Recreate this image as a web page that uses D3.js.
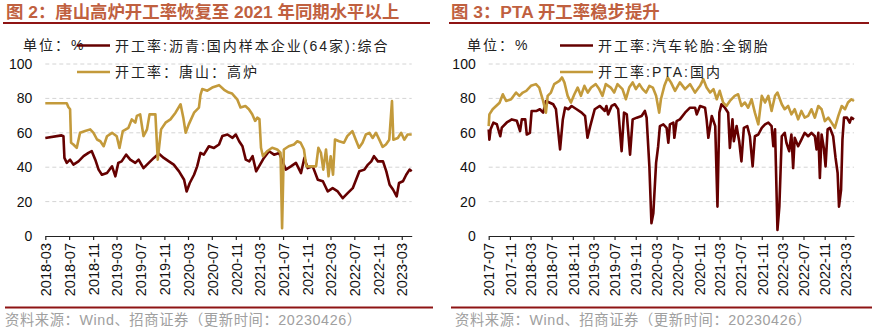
<!DOCTYPE html>
<html><head><meta charset="utf-8">
<script src="https://cdn.jsdelivr.net/npm/d3@7"></script>
<style>
body{margin:0;background:#fff;}
text{font-family:"Liberation Sans","Noto Sans CJK SC",Arial,sans-serif;}
.cjk{font-family:"Liberation Sans","Noto Sans CJK SC",sans-serif;}
</style></head>
<body><svg id="c" width="880" height="329"></svg>
<script>
// ---------- data ----------
const titles = ["图 2：唐山高炉开工率恢复至 2021 年同期水平以上", "图 3：PTA 开工率稳步提升"];
const sourceText = "资料来源：Wind、招商证券（更新时间：20230426）";
const unitText = "单位：%";
const yTicks = [0, 20, 40, 60, 80, 100];

const leftSeriesNames = ["开工率:沥青:国内样本企业(64家):综合", "开工率：唐山：高炉"];
const leftTicks = ["2018-03","2018-07","2018-11","2019-03","2019-07","2019-11","2020-03","2020-07","2020-11","2021-03","2021-07","2021-11","2022-03","2022-07","2022-11","2023-03"];
const leftDomain = ["2018-03-01", "2023-04-21"];

const asphalt = [
["2018-03-01",57],["2018-05-23",58.5],["2018-06-02",58],["2018-06-07",45.4],["2018-06-19",42.5],["2018-07-06",44.4],["2018-07-23",41.5],["2018-08-18",43.4],["2018-09-13",46.4],["2018-10-08",48.3],["2018-10-25",49.3],["2018-11-12",44.4],["2018-11-29",38.6],["2018-12-16",35.6],["2019-01-11",36.6],["2019-02-06",40.5],["2019-02-23",34.7],["2019-03-10",42.5],["2019-03-27",43.4],["2019-04-19",47.3],["2019-05-10",44.4],["2019-06-05",42.5],["2019-06-22",44.4],["2019-07-17",39.5],["2019-08-13",42.5],["2019-09-08",45.4],["2019-10-03",47.9],["2019-10-29",45.4],["2019-11-24",43.4],["2019-12-19",41.5],["2020-01-15",37.6],["2020-02-10",32.7],["2020-02-23",25.9],["2020-03-10",30.8],["2020-04-01",35.6],["2020-04-17",40.5],["2020-05-04",48.3],["2020-05-21",47.3],["2020-06-16",52.2],["2020-07-12",51.2],["2020-08-07",53.2],["2020-08-24",58.1],["2020-09-19",59],["2020-10-15",57.1],["2020-11-01",59],["2020-11-18",55.1],["2020-12-05",52.2],["2020-12-22",44.4],["2021-01-09",43.4],["2021-01-26",46.4],["2021-02-13",37.6],["2021-02-28",40.5],["2021-03-25",45.4],["2021-04-20",49.3],["2021-05-16",47.3],["2021-06-11",48.3],["2021-06-28",43.4],["2021-07-15",38.6],["2021-08-10",40.5],["2021-09-05",42.5],["2021-10-01",36.6],["2021-10-18",45.4],["2021-11-04",39.5],["2021-11-30",40.5],["2021-12-26",32.7],["2022-01-21",31.8],["2022-02-15",25.9],["2022-03-12",27.8],["2022-04-07",25.9],["2022-05-03",22],["2022-05-28",24.9],["2022-06-23",27.8],["2022-07-10",32.7],["2022-07-27",37.6],["2022-08-22",38.6],["2022-09-09",41.5],["2022-09-26",43.4],["2022-10-10",46.4],["2022-10-30",43.4],["2022-11-25",43.4],["2022-12-12",37.6],["2022-12-29",29.8],["2023-01-16",26.9],["2023-02-03",23],["2023-02-15",30.8],["2023-03-07",31.8],["2023-03-24",35.6],["2023-04-10",38.6],["2023-04-21",37.6]
];
const tangshan = [
["2018-03-01",77.2],["2018-06-19",77.2],["2018-06-27",75],["2018-07-06",73.7],["2018-07-11",54.2],["2018-07-23",53.2],["2018-08-09",51.2],["2018-08-26",60],["2018-09-21",61],["2018-10-17",62],["2018-11-03",60],["2018-11-21",56.1],["2018-12-08",55.1],["2018-12-25",52.2],["2019-01-11",58],["2019-02-06",60],["2019-03-02",58],["2019-03-16",51.2],["2019-04-02",61],["2019-05-01",62.9],["2019-05-18",67.8],["2019-06-05",65.9],["2019-06-13",69.8],["2019-06-30",70.7],["2019-07-17",58.1],["2019-08-04",62],["2019-08-17",70.7],["2019-09-16",70.7],["2019-09-28",44.4],["2019-10-15",62],["2019-11-07",65.9],["2019-12-02",67.8],["2019-12-28",71.7],["2020-01-23",76.6],["2020-02-06",68.8],["2020-02-18",60],["2020-03-05",64.9],["2020-04-01",71.7],["2020-04-26",74.6],["2020-05-04",82],["2020-05-13",85.4],["2020-06-08",84.5],["2020-07-03",86.3],["2020-08-07",87.7],["2020-09-02",85],["2020-09-26",83.4],["2020-10-13",82.8],["2020-11-08",79.5],["2020-11-25",74.7],["2020-12-20",75.6],["2021-01-07",73.7],["2021-01-24",70.8],["2021-02-08",66.9],["2021-02-19",68.8],["2021-03-02",68],["2021-03-10",51.3],["2021-03-20",46.4],["2021-04-10",49.3],["2021-05-06",51.3],["2021-06-01",50.3],["2021-06-18",48.4],["2021-06-26",4.5],["2021-07-05",50.3],["2021-07-30",52.2],["2021-08-26",53.2],["2021-09-12",55.1],["2021-09-29",54.2],["2021-10-16",50.3],["2021-10-28",40.5],["2021-11-20",40.5],["2021-12-17",40.5],["2021-12-29",51.3],["2022-01-11",48.4],["2022-01-23",38.6],["2022-02-06",50.3],["2022-02-19",34.7],["2022-03-02",46.4],["2022-03-14",35.6],["2022-03-24",56.1],["2022-04-14",55.1],["2022-05-09",54.2],["2022-05-26",58.1],["2022-06-21",61],["2022-07-08",56.1],["2022-07-25",51.3],["2022-08-12",54.2],["2022-08-29",59],["2022-09-16",60],["2022-10-03",57],["2022-10-20",60],["2022-11-06",56],["2022-11-23",51.8],["2022-12-10",53.2],["2022-12-27",56],["2023-01-10",78.5],["2023-01-17",56],["2023-02-09",57],["2023-02-26",60],["2023-03-14",56],["2023-03-31",59],["2023-04-21",59]
];

const rightSeriesNames = ["开工率:汽车轮胎:全钢胎", "开工率:PTA:国内"];
const rightTicks = ["2017-07","2017-11","2018-03","2018-07","2018-11","2019-03","2019-07","2019-11","2020-03","2020-07","2020-11","2021-03","2021-07","2021-11","2022-03","2022-07","2022-11","2023-03"];
const rightDomain = ["2017-07-01", "2023-04-20"];

const tire = [
["2017-07-01",62],["2017-07-05",56],["2017-07-12",62],["2017-07-28",65.9],["2017-08-17",65],["2017-09-06",58],["2017-09-15",63],["2017-10-14",66],["2017-11-12",67.8],["2017-12-11",67],["2017-12-30",61],["2018-01-09",67.8],["2018-01-29",67.8],["2018-02-07",59],["2018-02-25",60],["2018-03-07",72.7],["2018-04-05",72.7],["2018-04-24",73.7],["2018-05-13",71.7],["2018-05-29",78.5],["2018-06-21",77.5],["2018-07-10",76.6],["2018-07-26",73.7],["2018-08-19",50.3],["2018-09-04",67.8],["2018-09-17",74.6],["2018-10-06",73.7],["2018-10-25",75.6],["2018-11-23",73.7],["2018-12-22",71.7],["2019-01-11",69.8],["2019-01-25",57.1],["2019-02-10",63.9],["2019-03-08",73.7],["2019-04-07",75.6],["2019-05-06",72.7],["2019-05-15",75.6],["2019-05-25",70.7],["2019-06-14",75.6],["2019-07-03",76.6],["2019-07-22",73.7],["2019-08-11",49.3],["2019-08-25",71.7],["2019-09-10",70.7],["2019-09-29",47.3],["2019-10-14",67.8],["2019-11-07",68.8],["2019-12-05",69.8],["2019-12-24",72.7],["2020-01-03",68.8],["2020-01-19",40.5],["2020-01-31",7.4],["2020-02-11",13.2],["2020-02-27",42.5],["2020-03-10",52.2],["2020-03-20",63.9],["2020-04-09",64.9],["2020-04-28",62.9],["2020-05-08",54.2],["2020-05-17",64.9],["2020-06-06",65.9],["2020-06-12",57.1],["2020-06-25",66.8],["2020-07-14",67.8],["2020-08-13",71.7],["2020-09-11",74.6],["2020-10-10",74.6],["2020-10-20",70.7],["2020-11-08",75.6],["2020-12-07",74.6],["2020-12-16",67.8],["2020-12-26",57.1],["2021-01-15",69.8],["2021-02-04",63.9],["2021-02-17",17.1],["2021-02-28",71.7],["2021-03-12",76.6],["2021-04-01",74.6],["2021-04-20",71.7],["2021-04-30",51.2],["2021-05-15",67.8],["2021-05-23",55.1],["2021-06-08",63.9],["2021-06-23",55.1],["2021-07-06",43.4],["2021-07-20",62.9],["2021-08-09",63.9],["2021-08-24",58],["2021-09-09",40.5],["2021-09-22",58],["2021-10-12",59],["2021-11-01",62.9],["2021-11-20",64.9],["2021-12-09",65.9],["2021-12-28",63.9],["2022-01-07",52.2],["2022-01-17",62],["2022-01-31",3.5],["2022-02-11",17.1],["2022-02-25",58],["2022-03-14",60],["2022-03-24",54.2],["2022-04-09",49.3],["2022-04-22",59],["2022-05-02",39.5],["2022-05-11",57.1],["2022-05-31",52.2],["2022-06-19",56],["2022-07-08",60],["2022-07-28",58],["2022-08-16",60],["2022-09-05",58],["2022-09-15",50.3],["2022-09-25",60],["2022-10-04",33.7],["2022-10-14",59],["2022-10-27",51.2],["2022-11-06",40.5],["2022-11-18",62],["2022-12-01",62.9],["2022-12-20",58],["2023-01-03",45.4],["2023-01-15",36.6],["2023-01-23",17.1],["2023-02-04",26.9],["2023-02-12",56],["2023-02-21",68.8],["2023-03-10",68.8],["2023-03-26",65.9],["2023-04-05",68.8],["2023-04-20",67.8]
];
const pta = [
["2017-07-01",63.9],["2017-07-05",70.7],["2017-07-24",73.7],["2017-08-13",75.6],["2017-09-02",77.5],["2017-09-21",82.4],["2017-10-10",78.5],["2017-11-08",79.5],["2017-12-07",83.4],["2017-12-26",81.5],["2018-01-15",83.4],["2018-02-04",84.4],["2018-03-03",87.3],["2018-04-01",88.3],["2018-04-20",86.3],["2018-05-10",79.5],["2018-05-29",71.7],["2018-06-08",81.5],["2018-06-27",83.4],["2018-07-16",88.3],["2018-08-15",90.2],["2018-08-30",92.2],["2018-09-13",89.3],["2018-10-02",81.5],["2018-10-21",77.6],["2018-11-10",82.4],["2018-11-29",86.3],["2018-12-18",81.5],["2019-01-07",87.3],["2019-01-27",83.4],["2019-02-15",86.3],["2019-03-14",88.3],["2019-04-03",85.4],["2019-04-22",81.5],["2019-05-11",88.3],["2019-06-09",86.3],["2019-06-29",83.4],["2019-07-18",88.3],["2019-08-16",85.4],["2019-09-05",79.5],["2019-09-24",86.3],["2019-10-14",89.3],["2019-11-02",85.4],["2019-11-22",88.3],["2019-12-11",85.4],["2019-12-31",83.4],["2020-01-19",87.3],["2020-02-08",86.3],["2020-02-27",81.5],["2020-03-16",71.7],["2020-03-26",79.5],["2020-04-15",87.3],["2020-05-04",92.2],["2020-05-23",89.3],["2020-06-16",84.4],["2020-07-14",89.3],["2020-08-13",85.4],["2020-09-11",88.3],["2020-10-10",83.4],["2020-11-08",87.3],["2020-11-27",91.2],["2020-12-16",86.3],["2021-01-05",83.4],["2021-01-25",85.4],["2021-02-13",79.5],["2021-03-02",84.4],["2021-03-22",77.6],["2021-04-10",75.6],["2021-04-30",78.5],["2021-05-28",81.5],["2021-06-17",82.4],["2021-07-06",75.6],["2021-07-26",77.6],["2021-08-14",74.6],["2021-09-03",79.5],["2021-09-22",71.7],["2021-10-12",64.9],["2021-11-01",81.5],["2021-11-20",77.6],["2021-12-09",81.5],["2021-12-28",72.7],["2022-01-17",81.5],["2022-01-31",83.4],["2022-02-25",76.6],["2022-03-14",73.7],["2022-04-03",75.6],["2022-04-22",70.7],["2022-05-11",73.7],["2022-05-31",67.8],["2022-06-19",72.7],["2022-07-08",68.8],["2022-07-28",69.8],["2022-08-16",73.7],["2022-09-05",68.8],["2022-09-25",75.6],["2022-10-14",73.7],["2022-11-02",66.8],["2022-11-22",68.8],["2022-12-11",65.9],["2022-12-30",62.9],["2023-01-19",69.8],["2023-02-08",75.6],["2023-02-27",73.7],["2023-03-16",77.6],["2023-04-05",79.5],["2023-04-20",78.5]
];

// ---------- style ----------
const BROWN = "#650000", GOLD = "#C39A3B", TITLE = "#C0603F", RULE = "#8E1414";
const parseD = d3.timeParse("%Y-%m-%d"), parseM = d3.timeParse("%Y-%m"), fmtM = d3.timeFormat("%Y-%m");
const svg = d3.select("#c");

function panel(o) {
  const g = svg.append("g");
  // title and rules
  g.append("text").attr("class","cjk").attr("x", o.titleX).attr("y", 18)
    .attr("font-size", 17.4).attr("font-weight", "bold").attr("fill", TITLE).text(o.title);
  g.append("line").attr("x1", o.ruleX[0]).attr("x2", o.ruleX[1]).attr("y1", 23).attr("y2", 23)
    .attr("stroke", RULE).attr("stroke-width", 2);
  g.append("line").attr("x1", o.ruleX[0] + 2).attr("x2", o.ruleX[1] + 3).attr("y1", 307.5).attr("y2", 307.5)
    .attr("stroke", RULE).attr("stroke-width", 2);
  g.append("text").attr("class","cjk").attr("x", o.srcX).attr("y", 325)
    .attr("font-size", 14.3).attr("fill", "#A0A0A0").attr("letter-spacing", 0.6).text(sourceText);

  const x = d3.scaleTime().domain(o.domain.map(parseD)).range(o.xr);
  const y = d3.scaleLinear().domain([0, 100]).range([236, 64]);

  // grid
  g.append("g").selectAll("line").data(yTicks.filter(v => v > 0)).join("line")
    .attr("x1", o.xr[0]).attr("x2", o.xr[1]).attr("y1", d => y(d)).attr("y2", d => y(d))
    .attr("stroke", "#D4D4D4").attr("stroke-width", 1).attr("stroke-dasharray", "4,3");

  // y axis
  const ya = g.append("g").attr("transform", `translate(${o.xr[0]},0)`)
    .call(d3.axisLeft(y).tickValues(yTicks).tickSize(0).tickPadding(o.yPad));
  ya.select(".domain").remove();
  ya.selectAll("text").attr("font-size", 14).attr("fill", "#111");

  // x axis
  const xa = g.append("g").attr("transform", "translate(0,236)")
    .call(d3.axisBottom(x).tickValues(o.ticks.map(parseM)).tickFormat(fmtM).tickSize(4).tickSizeOuter(0));
  xa.select(".domain").attr("stroke", "#222").attr("stroke-width", 1.2);
  xa.selectAll(".tick line").attr("stroke", "#222").attr("stroke-width", 1.2);
  xa.selectAll("text").attr("font-size", 14.5).attr("fill", "#111")
    .attr("transform", "rotate(-90)").attr("text-anchor", "end")
    .attr("x", -7).attr("y", 0).attr("dy", "0.36em");

  // lines
  const line = d3.line().x(d => x(parseD(d[0]))).y(d => y(d[1]));
  o.series.forEach(s => {
    g.append("path").datum(s.data).attr("d", line).attr("fill", "none")
      .attr("stroke", s.color).attr("stroke-width", 2.6).attr("stroke-linejoin", "round");
  });

  // legend
  g.append("text").attr("class","cjk").attr("x", o.unitX).attr("y", 50)
    .attr("font-size", 14).attr("letter-spacing", 2).attr("fill", "#222").text(unitText);
  o.legend.forEach((l, i) => {
    const ly = 45.5 + i * 26.5;
    g.append("line").attr("x1", o.legX).attr("x2", o.legX + 33).attr("y1", ly).attr("y2", ly)
      .attr("stroke", l.color).attr("stroke-width", 2.6);
    g.append("text").attr("class","cjk").attr("x", o.legX + 38).attr("y", ly + 5)
      .attr("font-size", 14).attr("letter-spacing", 2).attr("fill", "#222").text(l.name);
  });
}

panel({
  title: titles[0], titleX: 6, ruleX: [3, 430], srcX: 5,
  domain: leftDomain, xr: [45.3, 411.7], ticks: leftTicks, yPad: 13,
  unitX: 23, legX: 77,
  series: [{data: asphalt, color: BROWN}, {data: tangshan, color: GOLD}],
  legend: [{name: leftSeriesNames[0], color: BROWN}, {name: leftSeriesNames[1], color: GOLD}]
});
panel({
  title: titles[1], titleX: 451, ruleX: [449, 869], srcX: 455,
  domain: rightDomain, xr: [488.7, 854], ticks: rightTicks, yPad: 13,
  unitX: 467, legX: 560,
  series: [{data: tire, color: BROWN}, {data: pta, color: GOLD}],
  legend: [{name: rightSeriesNames[0], color: BROWN}, {name: rightSeriesNames[1], color: GOLD}]
});
</script></body></html>
